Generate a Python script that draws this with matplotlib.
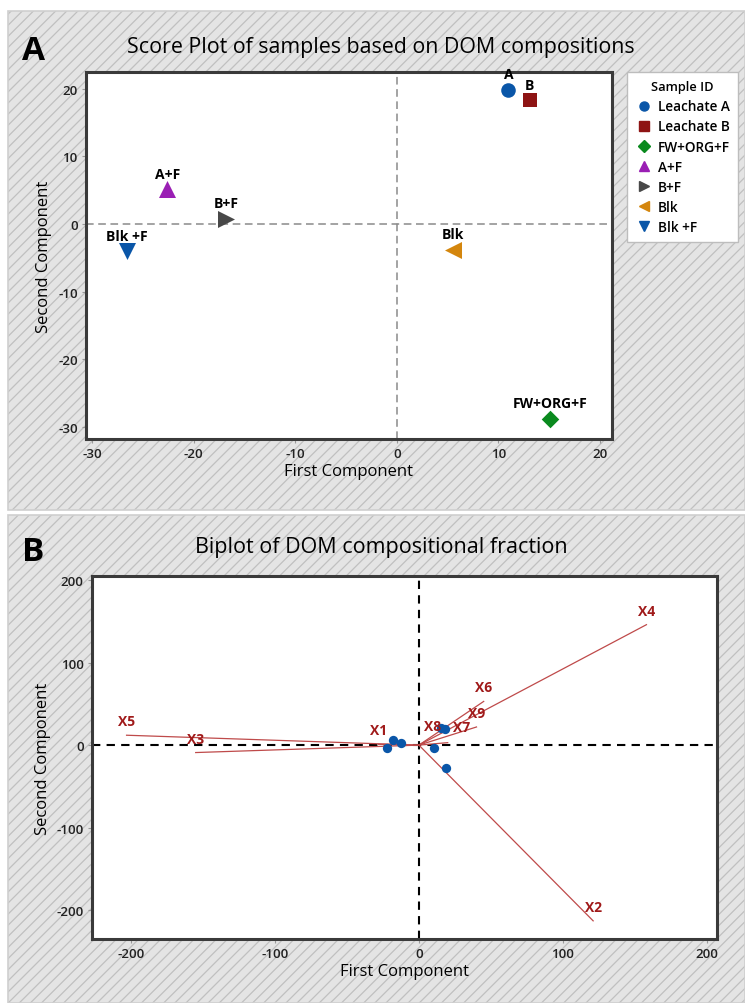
import numpy as np
import matplotlib
matplotlib.use("Agg")
import matplotlib.pyplot as plt
from matplotlib.patches import Rectangle
from matplotlib.lines import Line2D

plt.rcParams["font.family"] = ["Open Sans", "DejaVu Sans"]
plt.rcParams["hatch.linewidth"] = 0.9
plt.rcParams["axes.unicode_minus"] = False

# PCA scores per sample
samples = ["Leachate A", "Leachate B", "FW+ORG+F", "A+F", "B+F", "Blk", "Blk +F"]
point_labels = ["A", "B", "FW+ORG+F", "A+F", "B+F", "Blk", "Blk +F"]
pc1 = [11.0, 13.1, 15.1, -22.6, -16.8, 5.5, -26.6]
pc2 = [19.9, 18.3, -28.8, 5.2, 0.8, -3.8, -4.0]
markers = ["o", "s", "D", "^", ">", "<", "v"]
colors = ["#0a56a8", "#8e1414", "#0a8a1e", "#9a1fb4", "#484848", "#d4860d", "#0a56a8"]
sizes = [110, 95, 80, 150, 150, 150, 150]

# biplot: sample scores and variable loadings
bi_pc1 = [15.5, 18.0, 19.0, -17.8, -12.5, 10.4, -22.4]
bi_pc2 = [21.0, 19.0, -28.0, 6.0, 2.0, -3.0, -3.0]
variables = ["X1", "X2", "X3", "X4", "X5", "X6", "X7", "X8", "X9"]
load1 = [-28, 121, -155, 158, -203, 45, 20, 4, 40]
load2 = [1, -213, -9, 146, 12, 53, 3, 4, 22]
# nudge the crowded labels near the origin
label_nudge = {"X7": (10, 1), "X8": (6, 1)}

fig = plt.figure(figsize=(7.45, 10.04), dpi=100)
W, H = 745, 1004


def fx(px):
    return px / W


def fy(py):
    return 1 - py / H


# hatched panel backgrounds
for top, bottom in [(12, 511), (516, 1004)]:
    fig.patches.append(Rectangle((fx(8), fy(bottom)), fx(745 - 8), (bottom - top) / H,
                                 transform=fig.transFigure, facecolor="#e4e4e4",
                                 edgecolor="#c0c0c0", hatch="///", linewidth=0, zorder=-10))
    fig.patches.append(Rectangle((fx(8), fy(bottom)), fx(745 - 8), (bottom - top) / H,
                                 transform=fig.transFigure, facecolor="none",
                                 edgecolor="#cfcfcf", linewidth=1.2, zorder=-9))


def style_axes(ax):
    for s in ax.spines.values():
        s.set_color("#3a3a3a")
        s.set_linewidth(2.2)
    ax.tick_params(direction="out", length=3, width=0.8, color="#999999",
                   labelsize=9.5, labelcolor="#222222", pad=3)
    for t in ax.get_xticklabels() + ax.get_yticklabels():
        t.set_fontweight("semibold")
    ax.set_facecolor("white")


# ---- panel A: score plot ----
axA = fig.add_axes([fx(86), fy(440), fx(612 - 86), (440 - 73) / H])
axA.set_xlim(-30.6, 21.2)
axA.set_ylim(-31.8, 22.5)
axA.set_xticks([-30, -20, -10, 0, 10, 20])
axA.set_yticks([-30, -20, -10, 0, 10, 20])
style_axes(axA)
axA.axhline(0, color="#8a8a8a", linestyle=(0, (5, 3)), linewidth=1.1, zorder=1)
axA.axvline(0, color="#8a8a8a", linestyle=(0, (5, 3)), linewidth=1.1, zorder=1)
for x, y, m, c, s, lab in zip(pc1, pc2, markers, colors, sizes, point_labels):
    axA.scatter(x, y, marker=m, s=s, color=c, zorder=3, linewidths=0)
    axA.annotate(lab, (x, y), xytext=(0, 6), textcoords="offset points",
                 ha="center", va="bottom", fontsize=10, fontweight="bold", zorder=4)
axA.set_xlabel("First Component", fontsize=12, labelpad=2)
axA.set_ylabel("Second Component", fontsize=12, labelpad=4)

handles = [Line2D([], [], marker=m, color=c, linestyle="none", markersize=6.5)
           for m, c in zip(markers, colors)]
leg = fig.legend(handles, samples, title="Sample ID", loc="upper left",
                 bbox_to_anchor=(fx(627), fy(73)), borderaxespad=0,
                 frameon=True, fancybox=False,
                 fontsize=9.8, title_fontsize=9.3, handletextpad=0.35,
                 handlelength=1.3, labelspacing=0.45, borderpad=0.6, framealpha=1)
leg.get_frame().set_edgecolor("#bdbdbd")
leg.get_frame().set_linewidth(1.0)
for t in leg.get_texts():
    t.set_fontweight("semibold")
leg.get_title().set_fontweight("semibold")

fig.text(fx(381), fy(47), "Score Plot of samples based on DOM compositions",
         ha="center", va="center", fontsize=15.4)
fig.text(fx(33), fy(51), "A", ha="center", va="center", fontsize=24, fontweight="bold")

# ---- panel B: biplot ----
axB = fig.add_axes([fx(92), fy(940), fx(717 - 92), (940 - 577) / H])
axB.set_xlim(-227, 207)
axB.set_ylim(-235, 205)
axB.set_xticks([-200, -100, 0, 100, 200])
axB.set_yticks([-200, -100, 0, 100, 200])
style_axes(axB)
axB.axhline(0, color="black", linestyle=(0, (4, 3)), linewidth=1.5, zorder=1)
axB.axvline(0, color="black", linestyle=(0, (4, 3)), linewidth=1.5, zorder=1)
for name, lx, ly in zip(variables, load1, load2):
    axB.plot([0, lx], [0, ly], color="#bf4a4a", linewidth=0.9, zorder=2)
    dx, dy = label_nudge.get(name, (0, 0))
    axB.annotate(name, (lx, ly), xytext=(dx, 5 + dy), textcoords="offset points",
                 ha="center", va="bottom", fontsize=10, fontweight="bold",
                 color="#a01a1a", zorder=4)
axB.scatter(bi_pc1, bi_pc2, s=45, color="#0a56a8", zorder=3, linewidths=0)
axB.set_xlabel("First Component", fontsize=12, labelpad=2)
axB.set_ylabel("Second Component", fontsize=12, labelpad=4)

fig.text(fx(381), fy(548), "Biplot of DOM compositional fraction",
         ha="center", va="center", fontsize=15.5)
fig.text(fx(33), fy(553), "B", ha="center", va="center", fontsize=24, fontweight="bold")

fig.savefig("out.png", dpi=100)
